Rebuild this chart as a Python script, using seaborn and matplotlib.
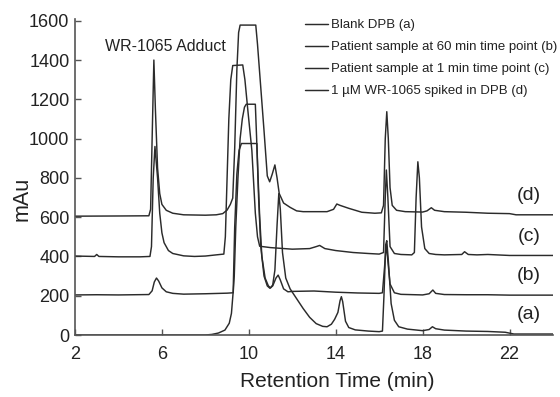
import matplotlib
matplotlib.use("Agg")
import matplotlib.pyplot as plt
import seaborn as sns
import pandas as pd

# ---- data ----
t_a = [2, 8.0, 8.3, 8.6, 8.9, 9.1, 9.2, 9.28, 9.35, 9.45, 9.55, 9.66, 10.37, 10.42, 10.5, 10.6, 10.75, 10.9,
       11.0, 11.1, 11.2, 11.3, 11.38, 11.45, 11.55, 11.7, 11.9, 12.2, 12.5, 12.8, 13.1, 13.4, 13.6, 13.8, 13.95,
       14.1, 14.2, 14.26, 14.32, 14.45, 14.6, 14.9, 15.5, 16.0, 16.15, 16.22, 16.3, 16.35, 16.42, 16.55, 16.7,
       16.9, 17.3, 18.0, 18.3, 18.45, 18.6, 19.0, 20.0, 21.0, 21.8, 22.2, 24]
mau_a = [0, 0, 3, 10, 25, 60, 110, 220, 550, 820, 940, 975, 975, 820, 600, 400, 290, 250,
         240, 255, 330, 560, 720, 640, 420, 290, 235, 185, 135, 90, 58, 44, 42, 55, 80,
         115, 175, 195, 170, 70, 38, 26, 20, 17, 20, 200, 460, 480, 380, 160, 75,
         42, 30, 22, 28, 42, 32, 25, 20, 18, 14, 5, 5]

t_b = [2, 3, 4, 5.4, 5.55, 5.65, 5.75, 5.85, 6.0, 6.2, 6.5, 7.0, 8.0, 9.0, 9.28, 9.33, 9.4, 9.5, 9.6, 9.7,
       9.8, 9.88, 10.3, 10.36, 10.45, 10.55, 10.7, 10.85, 10.97, 11.1, 11.25, 11.35, 11.45, 11.6, 11.8, 12.0,
       13.0, 14.0, 15.0, 16.0, 16.15, 16.25, 16.32, 16.38, 16.5, 16.7, 17.0, 18.0, 18.3, 18.47, 18.6, 19.0,
       20.0, 21.0, 22.0, 24]
mau_b = [204, 205, 204, 206, 225, 270, 290, 275, 240, 220, 212, 208, 210, 213, 215, 300, 550, 800, 1000, 1100,
         1160, 1175, 1175, 1000, 700, 450, 300, 250, 238, 250, 290, 305, 280, 235, 220, 222,
         224, 218, 214, 212, 215, 350, 460, 400, 260, 215, 207, 204, 210, 229, 212, 206,
         205, 205, 203, 203]

t_c = [2, 2.9, 3.0, 3.1, 4, 5, 5.45, 5.52, 5.6, 5.68, 5.8, 5.9, 6.0, 6.1, 6.3, 6.5, 7.0, 7.5, 8.0, 8.5,
       8.85, 8.92, 9.0, 9.08, 9.17, 9.26, 9.72, 9.82, 9.95, 10.14, 10.3, 10.4, 10.5, 11.0, 12.0, 12.8, 13.1,
       13.26, 13.5, 14.0, 14.8, 15.5, 16.0, 16.2, 16.28, 16.33, 16.4, 16.5, 16.7, 17.0, 17.5, 17.62, 17.7,
       17.78, 17.85, 17.95, 18.1, 18.3, 18.6, 19.0, 19.8, 19.93, 20.1, 20.5, 21.0, 22.0, 24]
mau_c = [402, 400, 410, 400, 398, 398, 400, 450, 800, 960, 800, 620, 520, 470, 430, 415, 403, 400, 402, 408,
         412, 500, 800, 1100, 1300, 1372, 1375, 1300, 1150, 940, 620, 500, 452, 445, 437, 440, 450,
         456, 440, 430, 420, 415, 412, 420, 700, 840, 700, 450, 415, 410, 408, 420, 700,
         882, 800, 550, 440, 415, 410, 408, 410, 424, 410, 408, 410, 405, 405]

t_d = [2, 4, 5.4, 5.48, 5.55, 5.63, 5.7, 5.8, 5.9, 6.0, 6.2, 6.5, 7.0, 8.0, 8.5, 8.8, 9.0, 9.15, 9.26, 9.35,
       9.45, 9.53, 9.6, 10.32, 10.4, 10.55, 10.7, 10.85, 10.96, 11.08, 11.2, 11.3, 11.4, 11.6, 11.9, 12.2,
       12.5, 13.6, 13.9, 14.05, 14.2, 14.6, 15.2, 15.8, 16.1, 16.2, 16.28, 16.35, 16.42, 16.5, 16.6, 16.8,
       17.2, 18.0, 18.2, 18.4, 18.55, 19.0, 20.0, 21.0, 22.0, 22.3, 24]
mau_d = [605, 606, 607, 640, 1000, 1400, 1150, 850, 720, 665, 635, 620, 612, 610, 612, 618, 636, 665, 697, 950,
         1350, 1540, 1578, 1578, 1480, 1260, 1040, 810, 780, 820, 866, 800, 720, 672, 650, 632,
         628, 628, 640, 667, 660, 645, 625, 620, 622, 660, 1000, 1137, 1000, 750, 660, 635,
         628, 626, 632, 648, 635, 628, 625, 620, 618, 612, 612]

series_names = ["Blank DPB (a)",
                "Patient sample at 60 min time point (b)",
                "Patient sample at 1 min time point (c)",
                "1 \u00b5M WR-1065 spiked in DPB (d)"]
trace_tags = ["(a)", "(b)", "(c)", "(d)"]
tag_levels = [102, 305, 500, 712]
x_ticks = [2, 6, 10, 14, 18, 22]
y_ticks = [0, 200, 400, 600, 800, 1000, 1200, 1400, 1600]

frames = []
for name, t, y in zip(series_names, [t_a, t_b, t_c, t_d], [mau_a, mau_b, mau_c, mau_d]):
    frames.append(pd.DataFrame({"time": t, "mAu": y, "trace": name}))
df = pd.concat(frames, ignore_index=True)

# ---- style ----
sns.set_theme(style="ticks")
plt.rcParams["font.family"] = ["Liberation Sans", "DejaVu Sans"]
ink = "#2b2b2b"

fig = plt.figure(figsize=(5.6, 3.97), dpi=100)
ax = fig.add_axes([75 / 560, 1 - 335 / 397, 478 / 560, (335 - 18.8) / 397])

sns.lineplot(data=df, x="time", y="mAu", hue="trace", hue_order=series_names,
             palette=[ink] * 4, estimator=None, linewidth=1.05, ax=ax)

ax.set_xlim(2, 24)
ax.set_ylim(0, 1610)
ax.set_xticks(x_ticks)
ax.set_yticks(y_ticks)
ax.tick_params(axis="both", direction="in", length=4, width=1.0, color="#555555",
               labelsize=13, labelcolor="#222222")
ax.tick_params(axis="x", pad=8)
ax.tick_params(axis="y", pad=4)
for side in ["top", "right"]:
    ax.spines[side].set_visible(False)
for side in ["left", "bottom"]:
    ax.spines[side].set_color("#555555")
    ax.spines[side].set_linewidth(1.2)

ax.set_xlabel("Retention Time (min)", fontsize=15, color="#222222")
ax.set_ylabel("mAu", fontsize=15.5, color="#222222")
ax.xaxis.set_label_coords(0.548, -0.118)
ax.yaxis.set_label_coords(-0.088, 0.43)

ax.text(3.38, 1468, "WR-1065 Adduct", fontsize=11.5, color="#222222", va="center", ha="left")
for tag, lvl in zip(trace_tags, tag_levels):
    ax.text(22.9, lvl, tag, fontsize=14, color="#222222", ha="center", va="center")

sns.move_legend(ax, loc="upper left", bbox_to_anchor=(305 / 560, 1 - 19 / 397),
                bbox_transform=fig.transFigure, frameon=False, title=None,
                fontsize=9.5, handlelength=1.75, handletextpad=0.2, borderpad=0,
                borderaxespad=0, labelspacing=0.74, labelcolor="#222222")

fig.savefig("out.png", dpi=100)
